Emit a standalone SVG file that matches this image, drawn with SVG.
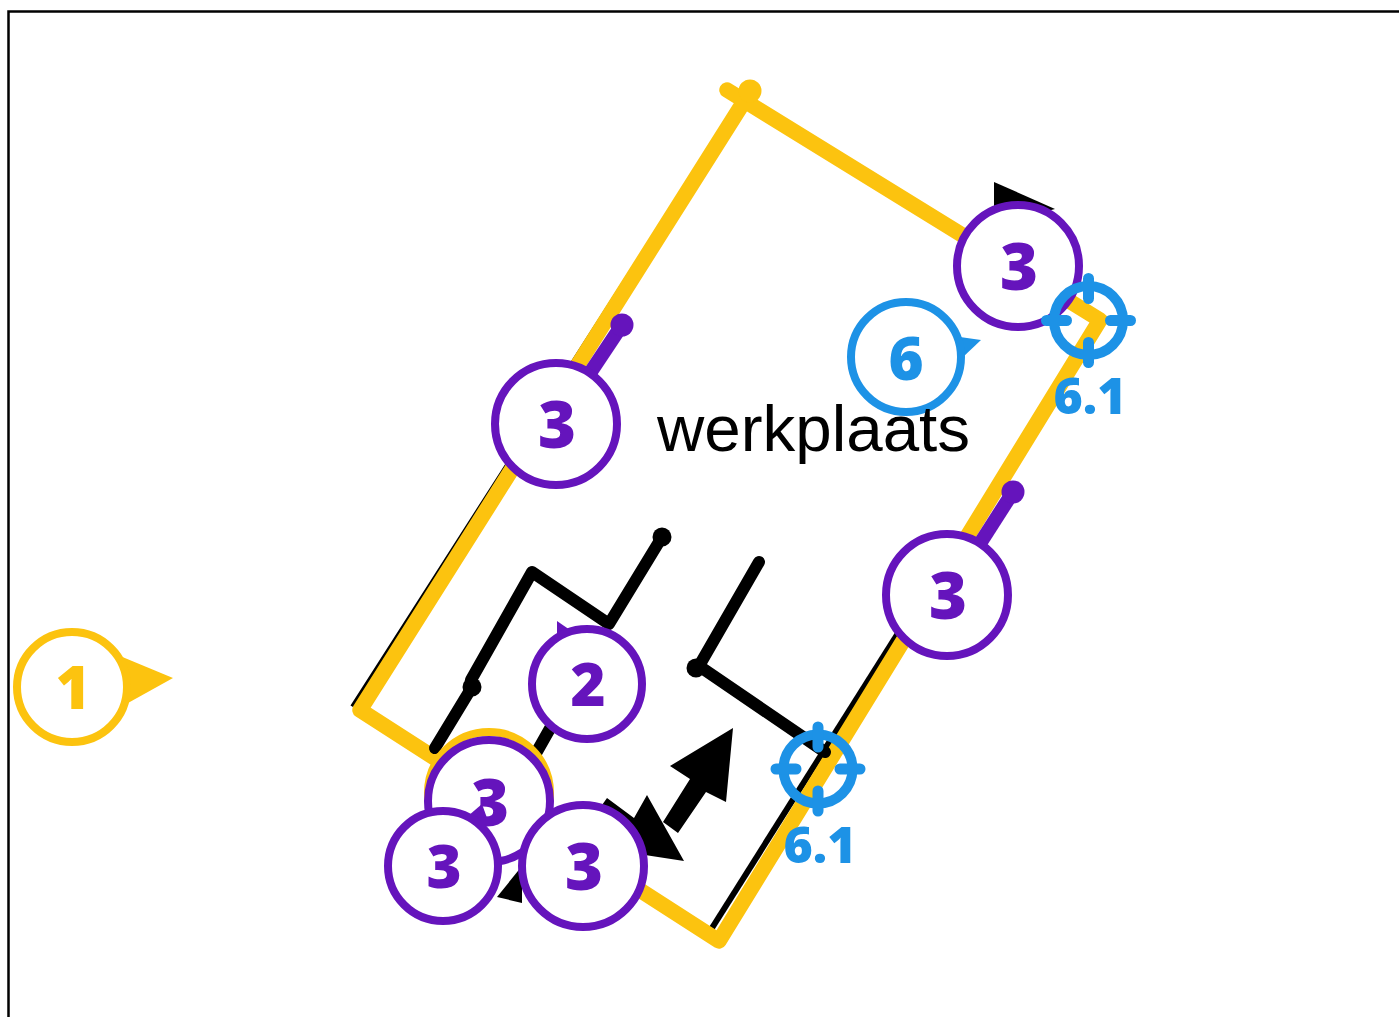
<svg xmlns="http://www.w3.org/2000/svg" width="1399" height="1017" viewBox="0 0 1399 1017">
<style>
text{text-anchor:middle;font-family:"Open Sans","Noto Sans",sans-serif;font-weight:800}
.p{fill:#fff;stroke:#6514bc;stroke-width:8}
.y{fill:#fff;stroke:#fcc30f;stroke-width:8}
.b{fill:#fff;stroke:#1d92e6;stroke-width:8}
.tp{fill:#6514bc}.ty{fill:#fcc30f}.tb{fill:#1d92e6}
.wall{fill:none;stroke:#000;stroke-width:12;stroke-linecap:round;stroke-linejoin:round}
.thin{fill:none;stroke:#000;stroke-width:6}
.cross{fill:none;stroke:#1d92e6}
</style>
<defs>
<g id="crosshair" class="cross">
<circle r="34.500" stroke-width="10"/>
<path d="M-42 0H-22M22 0H42M0-42V-22M0 22V42" stroke-width="11" stroke-linecap="round"/>
</g>
</defs>
<path d="M8.500 1017V11.500H1399" fill="none" stroke="#000" stroke-width="2.500"/>
<g id="connectors">
<path class="thin" d="M353 707L742 100L1095 318"/>
<path class="thin" d="M712 928L900 630"/>
<path d="M727 90L1100 320L719 941L360 710L745 100" fill="none" stroke="#fcc30f" stroke-width="15.500" stroke-linecap="round" stroke-linejoin="round"/>
<circle cx="750" cy="91" r="11.500" fill="#fcc30f"/>
<path class="wall" d="M471 680L532 572L609 624L662 537"/>
<circle cx="662" cy="537" r="9.500"/>
<path class="wall" d="M472 687L435 748"/>
<circle cx="472" cy="687" r="9.500"/>
<path class="wall" d="M552 725L535 755"/>
<path class="wall" d="M759 562L699 666L825 752"/>
<circle cx="696" cy="668" r="9.500"/>
<path d="M733 728L670 766L690 779L663 822L678 833L706 792L726 802Z"/>
<path d="M684 861L647 795L634 818L607 798L590 822L620 845L645 855Z"/>
<path d="M994 182L1055 209L994 225Z"/>
<path d="M522 866L497 897L522 903Z"/>
</g>
<g id="pin-top" class="tp">
<path d="M556 424L622 325" fill="none" stroke="#6514bc" stroke-width="14"/>
<circle cx="622" cy="325" r="11.500"/>
</g>
<g id="pin-right" class="tp">
<path d="M947 595L1013 492" fill="none" stroke="#6514bc" stroke-width="14"/>
<circle cx="1013" cy="492" r="11.500"/>
</g>
<g id="node-1">
<path class="ty" d="M120 656L173 678L128 703Z"/>
<circle class="y" cx="72" cy="687" r="55"/>
<text class="ty" x="73" y="709" font-size="60">1</text>
</g>
<g id="node-2">
<path class="tp" d="M557 621L570 630L557 640Z"/>
<circle class="p" cx="587" cy="684" r="55"/>
<text class="tp" x="588" y="706" font-size="60">2</text>
</g>
<g id="node-3a">
<circle class="p" cx="556" cy="424" r="61"/>
<text class="tp" x="557" y="448" font-size="65">3</text>
</g>
<g id="node-3b">
<circle class="p" cx="947" cy="595" r="61"/>
<text class="tp" x="948" y="619" font-size="65">3</text>
</g>
<g id="node-3c">
<circle class="p" cx="1018" cy="266" r="61"/>
<text class="tp" x="1019" y="290" font-size="65">3</text>
</g>
<g id="node-3d">
<circle class="y" cx="489" cy="793" r="61"/>
<circle class="p" cx="489" cy="801" r="61"/>
<text class="tp" x="490" y="826" font-size="65">3</text>
</g>
<g id="node-3e">
<path class="tp" d="M468 816L482 804L487 818Z"/>
<circle class="p" cx="443" cy="866" r="55"/>
<text class="tp" x="444" y="888" font-size="60">3</text>
</g>
<g id="node-3f">
<circle class="p" cx="583" cy="866" r="61"/>
<text class="tp" x="584" y="890" font-size="65">3</text>
</g>
<g id="node-6">
<path class="tb" d="M960 337L981 340L962 358Z"/>
<circle class="b" cx="906" cy="357" r="55"/>
<text class="tb" x="906" y="380" font-size="60">6</text>
</g>
<g id="node-6-1a">
<use href="#crosshair" x="1088.500" y="320.500"/>
<text class="tb" x="1090" y="414" font-size="50">6.1</text>
</g>
<g id="node-6-1b">
<use href="#crosshair" x="818" y="769"/>
<text class="tb" x="820" y="863" font-size="50">6.1</text>
</g>
<text id="label" x="813.500" y="451" font-size="65.500" style="font-family:'Liberation Sans',Arial,sans-serif;font-weight:400">werkplaats</text>
</svg>
